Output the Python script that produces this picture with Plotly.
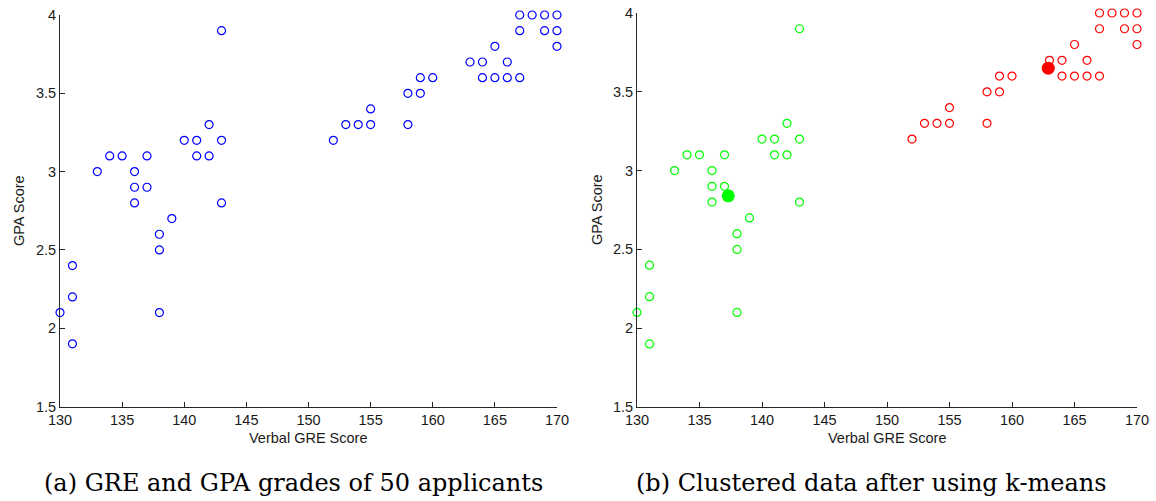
import plotly.graph_objects as go

# Cluster 1 (low GRE)
gre_c1 = [130, 131, 131, 131, 133, 134, 135, 136, 136, 136, 137, 137,
          138, 138, 138, 139, 140, 141, 141, 142, 142, 143, 143, 143]
gpa_c1 = [2.1, 2.4, 2.2, 1.9, 3.0, 3.1, 3.1, 3.0, 2.9, 2.8, 3.1, 2.9,
          2.6, 2.5, 2.1, 2.7, 3.2, 3.2, 3.1, 3.3, 3.1, 3.9, 3.2, 2.8]
# Cluster 2 (high GRE)
gre_c2 = [152, 153, 154, 155, 155, 158, 158, 159, 159, 160, 163, 164, 164,
          165, 165, 166, 166, 167, 167, 167, 168, 169, 169, 170, 170, 170]
gpa_c2 = [3.2, 3.3, 3.3, 3.3, 3.4, 3.3, 3.5, 3.5, 3.6, 3.6, 3.7, 3.7, 3.6,
          3.8, 3.6, 3.7, 3.6, 3.6, 4.0, 3.9, 4.0, 4.0, 3.9, 4.0, 3.9, 3.8]
# Centroids
centroid_gre = [137.3, 162.9]
centroid_gpa = [2.84, 3.65]

x_ticks = [130, 135, 140, 145, 150, 155, 160, 165, 170]
y_ticks = [1.5, 2, 2.5, 3, 3.5, 4]

W, H = 1156, 501
TXT = "#1a1a1a"

def px_x(p):
    return p / W

def px_y(p):
    return 1 - p / H

fig = go.Figure()

open_marker = dict(symbol="circle-open", size=8, line=dict(width=1.2))

fig.add_trace(go.Scatter(x=gre_c1 + gre_c2, y=gpa_c1 + gpa_c2, mode="markers",
                         marker=dict(**open_marker, color="#0000ff"),
                         xaxis="x", yaxis="y", cliponaxis=False, showlegend=False))
fig.add_trace(go.Scatter(x=gre_c1, y=gpa_c1, mode="markers",
                         marker=dict(**open_marker, color="#00ff00"),
                         xaxis="x2", yaxis="y2", cliponaxis=False, showlegend=False))
fig.add_trace(go.Scatter(x=gre_c2, y=gpa_c2, mode="markers",
                         marker=dict(**open_marker, color="#ff0000"),
                         xaxis="x2", yaxis="y2", cliponaxis=False, showlegend=False))
fig.add_trace(go.Scatter(x=centroid_gre, y=centroid_gpa, mode="markers",
                         marker=dict(symbol="circle", size=13, color=["#00ff00", "#ff0000"]),
                         xaxis="x2", yaxis="y2", cliponaxis=False, showlegend=False))

axis_common = dict(showgrid=False, zeroline=False, showline=True, linecolor="#262626",
                   linewidth=1, ticks="inside", ticklen=5, tickcolor="#262626",
                   automargin=False,
                   tickfont=dict(family="Liberation Sans, Arial", size=14.5, color=TXT))

fig.update_layout(
    width=W, height=H, margin=dict(l=0, r=0, t=0, b=0, autoexpand=False),
    paper_bgcolor="white", plot_bgcolor="white",
    xaxis=dict(**axis_common, domain=[px_x(60), px_x(557)], range=[130, 170],
               tickvals=x_ticks, anchor="y"),
    yaxis=dict(**axis_common, domain=[px_y(406.5), px_y(15)], range=[1.5, 4],
               tickvals=y_ticks, anchor="x"),
    xaxis2=dict(**axis_common, domain=[px_x(637), px_x(1137)], range=[130, 170],
                tickvals=x_ticks, anchor="y2"),
    yaxis2=dict(**axis_common, domain=[px_y(407), px_y(13)], range=[1.5, 4],
                tickvals=y_ticks, anchor="x2"),
)

lab_font = dict(family="Liberation Sans, Arial", size=14.5, color=TXT)
cap_font = dict(family="DejaVu Serif, serif", size=24, color="black")
ann = [
    dict(text="Verbal GRE Score", x=px_x(308), y=px_y(438), font=lab_font),
    dict(text="Verbal GRE Score", x=px_x(887), y=px_y(438), font=lab_font),
    dict(text="GPA Score", x=px_x(19), y=px_y(211), font=lab_font, textangle=-90),
    dict(text="GPA Score", x=px_x(597), y=px_y(210), font=lab_font, textangle=-90),
    dict(text="(a) GRE and GPA grades of 50 applicants", x=px_x(293), y=px_y(483), font=cap_font),
    dict(text="(b) Clustered data after using k-means", x=px_x(871), y=px_y(483), font=cap_font),
]
for a in ann:
    fig.add_annotation(xref="paper", yref="paper", showarrow=False,
                       xanchor="center", yanchor="middle", **a)

fig.write_html("out.html")
